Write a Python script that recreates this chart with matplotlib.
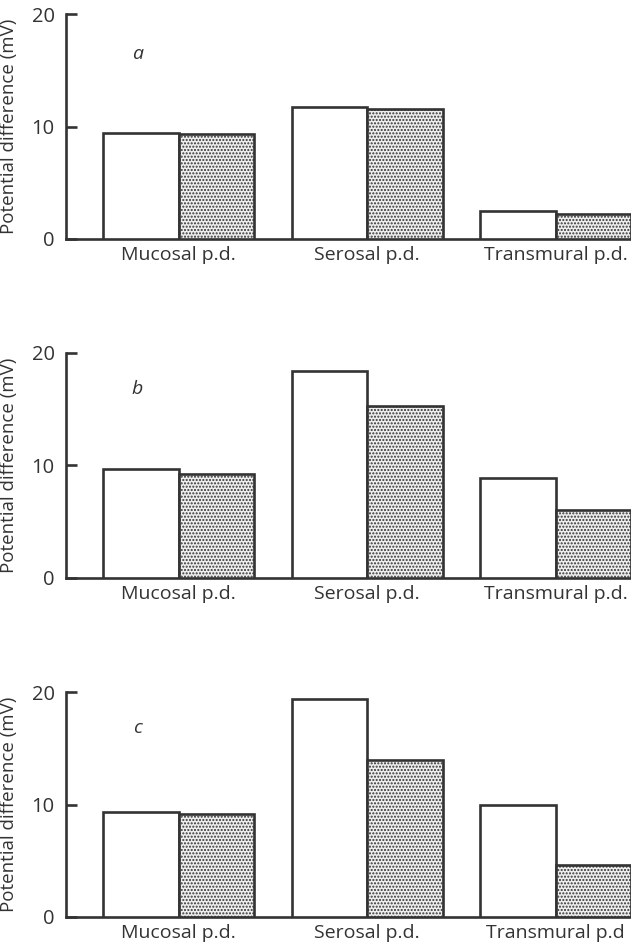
import matplotlib
matplotlib.use("Agg")
import matplotlib.pyplot as plt
import numpy as np

plt.rcParams['font.family'] = ['Open Sans', 'DejaVu Sans']
plt.rcParams['hatch.color'] = '#b4b4b4'
plt.rcParams['hatch.linewidth'] = 1.0

categories = ["Mucosal p.d.", "Serosal p.d.", "Transmural p.d."]
categories_c = ["Mucosal p.d.", "Serosal p.d.", "Transmural p.d"]
panel_letters = ["a", "b", "c"]

# values (mV): open bars and stippled bars
open_a = [9.47, 11.78, 2.46]
stip_a = [9.35, 11.60, 2.25]
open_b = [9.63, 18.40, 8.86]
stip_b = [9.19, 15.24, 6.02]
open_c = [9.30, 19.37, 10.00]
stip_c = [9.15, 13.94, 4.63]

yticks = [0, 10, 20]
ylabel = "Potential difference (mV)"

panels = [
    (open_a, stip_a, categories, "a"),
    (open_b, stip_b, categories, "b"),
    (open_c, stip_c, categories_c, "c"),
]

W, H = 631, 947
fig = plt.figure(figsize=(W / 100, H / 100), dpi=100)

# axes boxes in pixel coords (left, top, bottom)
boxes = [(65.7, 14.3, 239.0), (65.7, 352.7, 577.7), (65.7, 692.3, 916.7)]
letter_y = [16.5, 16.8, 16.8]

ink = '#333333'
for (op, st, cats, letter), (lx, ty, by), ly in zip(panels, boxes, letter_y):
    ax = fig.add_axes([lx / W, 1 - by / H, 1 - lx / W, (by - ty) / H])
    x = np.arange(len(cats))
    w = 0.4
    ax.bar(x - w / 2, op, width=w, color='white', edgecolor=ink, linewidth=1.9, zorder=3)
    ax.bar(x + w / 2, st, width=w, color='#eeeeee', edgecolor=ink, linewidth=1.9,
           hatch='.....', zorder=3)
    ax.set_xlim(-0.6, 2.4)
    ax.set_ylim(0, 20)
    ax.set_yticks(yticks)
    ax.set_yticklabels([str(t) for t in yticks], fontsize=14.5, color=ink)
    ax.set_xticks(x)
    ax.set_xticklabels(cats, fontsize=14, color=ink)
    ax.tick_params(axis='x', length=0, pad=5)
    ax.tick_params(axis='y', direction='in', length=8, width=1.9, color=ink, pad=8)
    for s in ['top', 'right']:
        ax.spines[s].set_visible(False)
    for s in ['left', 'bottom']:
        ax.spines[s].set_linewidth(1.9)
        ax.spines[s].set_color(ink)
    ax.set_ylabel(ylabel, fontsize=13.5, color=ink)
    ax.yaxis.set_label_coords(-0.084, 0.5)
    ax.text(-0.22, ly, letter, fontsize=14, style='italic', color=ink,
            ha='center', va='center')

fig.savefig("out.png", dpi=100)
